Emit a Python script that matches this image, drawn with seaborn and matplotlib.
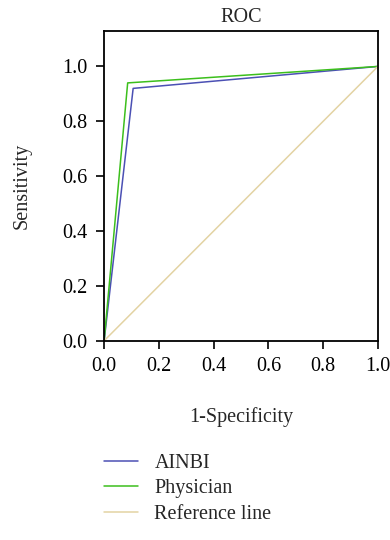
import pandas as pd
import seaborn as sns
import matplotlib.pyplot as plt

# ROC points
ainbi_fpr = [0.0, 0.106, 1.0]
ainbi_tpr = [0.0, 0.92, 1.0]
phys_fpr = [0.0, 0.086, 1.0]
phys_tpr = [0.0, 0.94, 1.0]
ref_fpr = [0.0, 1.0]
ref_tpr = [0.0, 1.0]

series = ["AINBI", "Physician", "Reference line"]
colors = ["#4b50b4", "#3cbf1c", "#e3d3a3"]
ticks = [0.0, 0.2, 0.4, 0.6, 0.8, 1.0]

df = pd.concat([
    pd.DataFrame({"fpr": ainbi_fpr, "tpr": ainbi_tpr, "curve": series[0]}),
    pd.DataFrame({"fpr": phys_fpr, "tpr": phys_tpr, "curve": series[1]}),
    pd.DataFrame({"fpr": ref_fpr, "tpr": ref_tpr, "curve": series[2]}),
])

fs = 14.5
sns.set_style("ticks")
plt.rcParams["font.family"] = ["Liberation Serif", "DejaVu Serif"]
plt.rcParams["font.size"] = fs

fig = plt.figure(figsize=(3.9, 5.4), dpi=100)
ax = fig.add_axes([0.267, 0.369, 0.702, 0.574])
sns.lineplot(data=df, x="fpr", y="tpr", hue="curve", palette=colors,
             sort=False, estimator=None, lw=1.1, ax=ax, legend=True)

ax.set_xlim(0, 1)
ax.set_ylim(0, 1.13)
ax.set_xticks(ticks)
ax.set_yticks(ticks)
ax.set_xticklabels([f"{t:.1f}" for t in ticks], fontsize=fs)
ax.set_yticklabels([f"{t:.1f}" for t in ticks], fontsize=fs)
ax.set_title("ROC", fontsize=fs, pad=6)
ax.set_xlabel("1-Specificity", fontsize=fs, labelpad=22)
ax.set_ylabel("Sensitivity", fontsize=fs, labelpad=22)
for s in ax.spines.values():
    s.set_linewidth(1.3)
    s.set_color("black")
ax.tick_params(width=1.2, length=6, colors="black", pad=6)

handles, labels = ax.get_legend_handles_labels()
ax.legend(handles, labels, loc="upper left", bbox_to_anchor=(-0.03, -0.34),
          frameon=False, fontsize=fs, handlelength=1.7, labelspacing=0.3,
          handletextpad=0.8, borderaxespad=0)

fig.savefig("out.png", dpi=100)
